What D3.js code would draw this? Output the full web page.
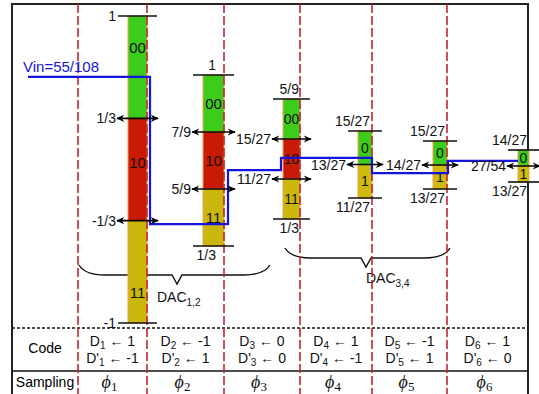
<!DOCTYPE html>
<html>
<head>
<meta charset="utf-8">
<script src="https://cdn.jsdelivr.net/npm/d3@7"></script>
<style>
  body { margin: 0; background: #fff; }
  text { font-family: "Liberation Sans", Arial, sans-serif; }
  .phi { font-family: "Liberation Serif", "DejaVu Serif", serif; font-style: italic; }
</style>
</head>
<body>
<div id="chart"></div>
<script>
// residue thresholds of every stage (value domain of each bar)
var thresholds = [
  [1, 1/3, -1/3, -1],
  [1, 7/9, 5/9, 1/3],
  [15/27, 13/27, 11/27, 9/27],
  [15/27, 13/27, 11/27],
  [15/27, 14/27, 13/27],
  [28/54, 27/54, 26/54]
];
var thresholdLabels = [
  ["1", "1/3", "-1/3", "-1"],
  ["1", "7/9", "5/9", "1/3"],
  ["5/9", "15/27", "11/27", "1/3"],
  ["15/27", "13/27", "11/27"],
  ["15/27", "14/27", "13/27"],
  ["14/27", "27/54", "13/27"]
];
var segmentCodes = [
  ["00", "10", "11"],
  ["00", "10", "11"],
  ["00", "10", "11"],
  ["0", "1"],
  ["0", "1"],
  ["0", "1"]
];
// Vin level seen in each phase, in units of that phase's bar
var vinLevels = [0.603, 0.419, 0.424, 0.496, 0.506, 0.506];
var vinLabel = "Vin=55/108";
var dCodes = ["1", "-1", "0", "1", "-1", "1"];
var dPrimeCodes = ["-1", "1", "0", "-1", "1", "0"];
var phases = ["1", "2", "3", "4", "5", "6"];

var svgWidth = 539;
var svgHeight = 394;

// layout
var colEdges = [12, 78, 147, 224, 300, 372, 447, 528];
var barWidths = [19, 21, 17, 14, 14, 11];
var barTopY = [16, 75, 99, 131, 141, 150];
var barBottomY = [323, 246, 219, 198, 189, 182];
var endLabelShift = [0, -8, -1, -2, -2, -2];
var codeLabelPos = [[0.31, 0.43, 0.7], [0.5, 0.5, 0.5], [0.5, 0.5, 0.5], [0.5, 0.5], [0.5, 0.5], [0.5, 0.5]];
var vinX = [28, 150, 228, 281, 372, 448, 518];

var colors = { "00": "#3ccc1c", "0": "#3ccc1c", "10": "#c81a04", "11": "#cbb70c", "1": "#cfba0e" };

var svg = d3.select("#chart")
  .append("svg")
  .attr("width", svgWidth)
  .attr("height", svgHeight);

var defs = svg.append("defs");
defs.append("marker")
  .attr("id", "head")
  .attr("viewBox", "0 -5 10 10")
  .attr("refX", 9)
  .attr("refY", 0)
  .attr("markerWidth", 9)
  .attr("markerHeight", 8)
  .attr("markerUnits", "userSpaceOnUse")
  .attr("orient", "auto-start-reverse")
  .append("path")
  .attr("d", "M0,-4.5L10,0L0,4.5L3,0Z")
  .attr("fill", "#000");

// frame
svg.append("path")
  .attr("d", `M${colEdges[0]},${svgHeight}V4H${colEdges[7]}V${svgHeight}`)
  .attr("fill", "none")
  .attr("stroke", "#222")
  .attr("stroke-width", 2);

svg.append("line")
  .attr("x1", colEdges[0]).attr("x2", colEdges[7])
  .attr("y1", 328).attr("y2", 328)
  .attr("stroke", "#111").attr("stroke-width", 1.5)
  .attr("stroke-dasharray", "3,2");

svg.append("line")
  .attr("x1", colEdges[0]).attr("x2", colEdges[7])
  .attr("y1", 371).attr("y2", 371)
  .attr("stroke", "#111").attr("stroke-width", 1.5);

// braces (under the bars)
function brace(x0, x1, y0, tip) {
  var p = d3.path();
  p.moveTo(x0, y0);
  p.quadraticCurveTo(x0 + 6, y0 + 10, x0 + 26, y0 + 10);
  p.lineTo(tip - 5, y0 + 10);
  p.lineTo(tip, y0 + 19);
  p.lineTo(tip + 5, y0 + 10);
  p.lineTo(x1 - 26, y0 + 10);
  p.quadraticCurveTo(x1 - 6, y0 + 10, x1, y0);
  return p.toString();
}
[[79, 270, 265, 177, "1,2", 157, 302], [285, 450, 248, 366, "3,4", 366, 283]].forEach(function(d) {
  svg.append("path")
    .attr("d", brace(d[0], d[1], d[2], d[3]))
    .attr("fill", "none")
    .attr("stroke", "#111")
    .attr("stroke-width", 1.4);
  var t = svg.append("text")
    .attr("x", d[5])
    .attr("y", d[6])
    .attr("font-size", "14px")
    .attr("fill", "#111");
  t.append("tspan").text("DAC");
  t.append("tspan").attr("font-size", "10px").attr("dy", 4).text(d[4]);
});

// one y scale per stage
var yScales = thresholds.map(function(t, i) {
  return d3.scaleLinear()
    .domain([t[t.length - 1], t[0]])
    .range([barBottomY[i], barTopY[i]]);
});

// each bar sits against the right border of its phase column
var bars = thresholds.map(function(t, i) {
  var right = colEdges[i + 2] + (i === 5 ? 1 : 0);
  return { i: i, t: t, y: yScales[i], left: right - barWidths[i], right: right };
});

var barGroup = svg.append("g");
bars.forEach(function(b) {
  var segs = segmentCodes[b.i].map(function(c, j) {
    return { code: c, y0: b.y(b.t[j]), y1: b.y(b.t[j + 1]), pos: codeLabelPos[b.i][j] };
  });
  var g = barGroup.append("g");
  g.selectAll("rect")
    .data(segs)
    .enter()
    .append("rect")
    .attr("x", b.left)
    .attr("y", d => d.y0)
    .attr("width", b.right - b.left)
    .attr("height", d => d.y1 - d.y0)
    .attr("fill", d => colors[d.code])
    .attr("stroke", "#f3a04a")
    .attr("stroke-width", 1);
  g.selectAll("text")
    .data(segs)
    .enter()
    .append("text")
    .attr("x", (b.left + b.right) / 2)
    .attr("y", d => d.y0 + (d.y1 - d.y0) * d.pos)
    .attr("dy", "0.36em")
    .attr("text-anchor", "middle")
    .attr("font-size", b.i < 2 ? "15px" : "14px")
    .attr("fill", "#111")
    .text(d => d.code);
});

// red phase borders
svg.selectAll(".phase-line")
  .data(colEdges.slice(1, 7))
  .enter()
  .append("line")
  .attr("x1", d => d).attr("x2", d => d)
  .attr("y1", 4).attr("y2", svgHeight)
  .attr("stroke", "#c3262c")
  .attr("stroke-width", 1.6)
  .attr("stroke-dasharray", "9,3");

// Vin trace
var vinPoints = [];
vinLevels.forEach(function(v, i) {
  var y = yScales[i](v);
  vinPoints.push([vinX[i], y], [vinX[i + 1], y]);
});
svg.append("path")
  .attr("d", d3.line()(vinPoints))
  .attr("fill", "none")
  .attr("stroke", "#1414dc")
  .attr("stroke-width", 2.2);

svg.append("text")
  .attr("x", 23)
  .attr("y", 72)
  .attr("font-size", "15px")
  .attr("fill", "#1414dc")
  .text(vinLabel);

// ticks, arrows and labels
bars.forEach(function(b) {
  var n = b.t.length;
  var labels = thresholdLabels[b.i];
  [0, n - 1].forEach(function(j) {
    var y = b.y(b.t[j]);
    svg.append("line")
      .attr("x1", b.left - 10).attr("x2", b.right + 10)
      .attr("y1", y).attr("y2", y)
      .attr("stroke", "#111").attr("stroke-width", 1.6);
    var lab = svg.append("text")
      .attr("font-size", "14px")
      .attr("fill", "#111")
      .text(labels[j]);
    if (b.i === 0) {
      lab.attr("x", b.left - 12).attr("y", y).attr("dy", "0.36em").attr("text-anchor", "end");
    } else {
      lab.attr("x", b.right + endLabelShift[b.i])
        .attr("y", j === 0 ? y - 5 : y + 14)
        .attr("text-anchor", "end");
    }
  });
  for (var j = 1; j < n - 1; j++) {
    var y = b.y(b.t[j]);
    svg.append("line")
      .attr("x1", b.left - 11).attr("x2", b.right + 11)
      .attr("y1", y).attr("y2", y)
      .attr("stroke", "#000").attr("stroke-width", 1.6)
      .attr("marker-start", "url(#head)")
      .attr("marker-end", "url(#head)");
    svg.append("text")
      .attr("x", b.left - 12)
      .attr("y", y)
      .attr("dy", "0.36em")
      .attr("text-anchor", "end")
      .attr("font-size", "14px")
      .attr("fill", "#111")
      .text(labels[j]);
  }
});

// table
var colCenter = function(i) { return (colEdges[i] + colEdges[i + 1]) / 2; };
svg.append("text")
  .attr("x", colCenter(0)).attr("y", 353)
  .attr("text-anchor", "middle").attr("font-size", "14px")
  .text("Code");
svg.append("text")
  .attr("x", colCenter(0)).attr("y", 387)
  .attr("text-anchor", "middle").attr("font-size", "14px")
  .text("Sampling");

phases.forEach(function(p, i) {
  var cx = colCenter(i + 1);
  [[ "D", dCodes[i], 346], ["D'", dPrimeCodes[i], 363]].forEach(function(r) {
    var t = svg.append("text")
      .attr("x", cx).attr("y", r[2])
      .attr("text-anchor", "middle")
      .attr("font-size", "14px")
      .attr("fill", "#111");
    t.append("tspan").text(r[0]);
    t.append("tspan").attr("font-size", "10px").attr("dy", 3).text(p);
    t.append("tspan").attr("dy", -3).text(" \u2190 " + r[1]);
  });
  var f = svg.append("text")
    .attr("x", cx - 3).attr("y", 388)
    .attr("text-anchor", "middle")
    .attr("font-size", "18px")
    .attr("fill", "#111");
  f.append("tspan").attr("class", "phi").text("\u03d5");
  f.append("tspan").attr("font-size", "13px").attr("font-family", "Liberation Serif, serif").attr("dy", 3).text(p);
});
</script>
</body>
</html>
